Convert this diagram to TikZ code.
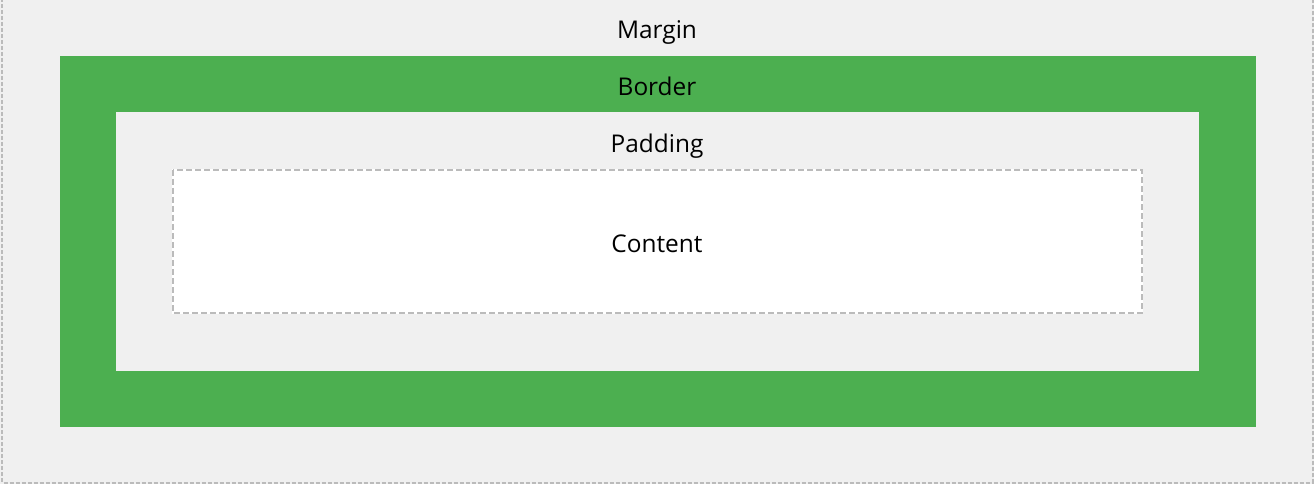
\documentclass[tikz,border=0pt]{standalone}
\usepackage{fontspec}
\setmainfont{Open Sans}
\definecolor{bg}{HTML}{F0F0F0}
\definecolor{grn}{HTML}{4CAF50}
\definecolor{dsh}{HTML}{BBBBBB}
\tikzset{
  lbl/.style={font=\fontsize{24.5}{28}\selectfont, text=black, inner sep=0pt, anchor=base},
}
\begin{document}
\begin{tikzpicture}[x=1bp,y=-1bp]
\useasboundingbox (0,0) rectangle (1314,484);
\fill[bg] (0,0) rectangle (1314,484);
\draw[dsh, line width=2bp, dash pattern=on 4bp off 2bp] (2,-2) -- (2,482.5) -- (1312.5,482.5) -- (1312.5,-2);
\fill[grn] (60,56) rectangle (1256,427);
\fill[bg] (116,112) rectangle (1199,371);
\fill[white] (172,169) rectangle (1143,314);
\draw[dsh, line width=2bp, dash pattern=on 6bp off 3bp] (173,170) rectangle (1142,313);
\node[lbl] (margin) at (657,39) {Margin};
\node[lbl] (border) at (657,96) {Border};
\node[lbl] (padding) at (657,153) {Padding};
\node[lbl] (content) at (657,253) {Content};
\end{tikzpicture}
\end{document}
